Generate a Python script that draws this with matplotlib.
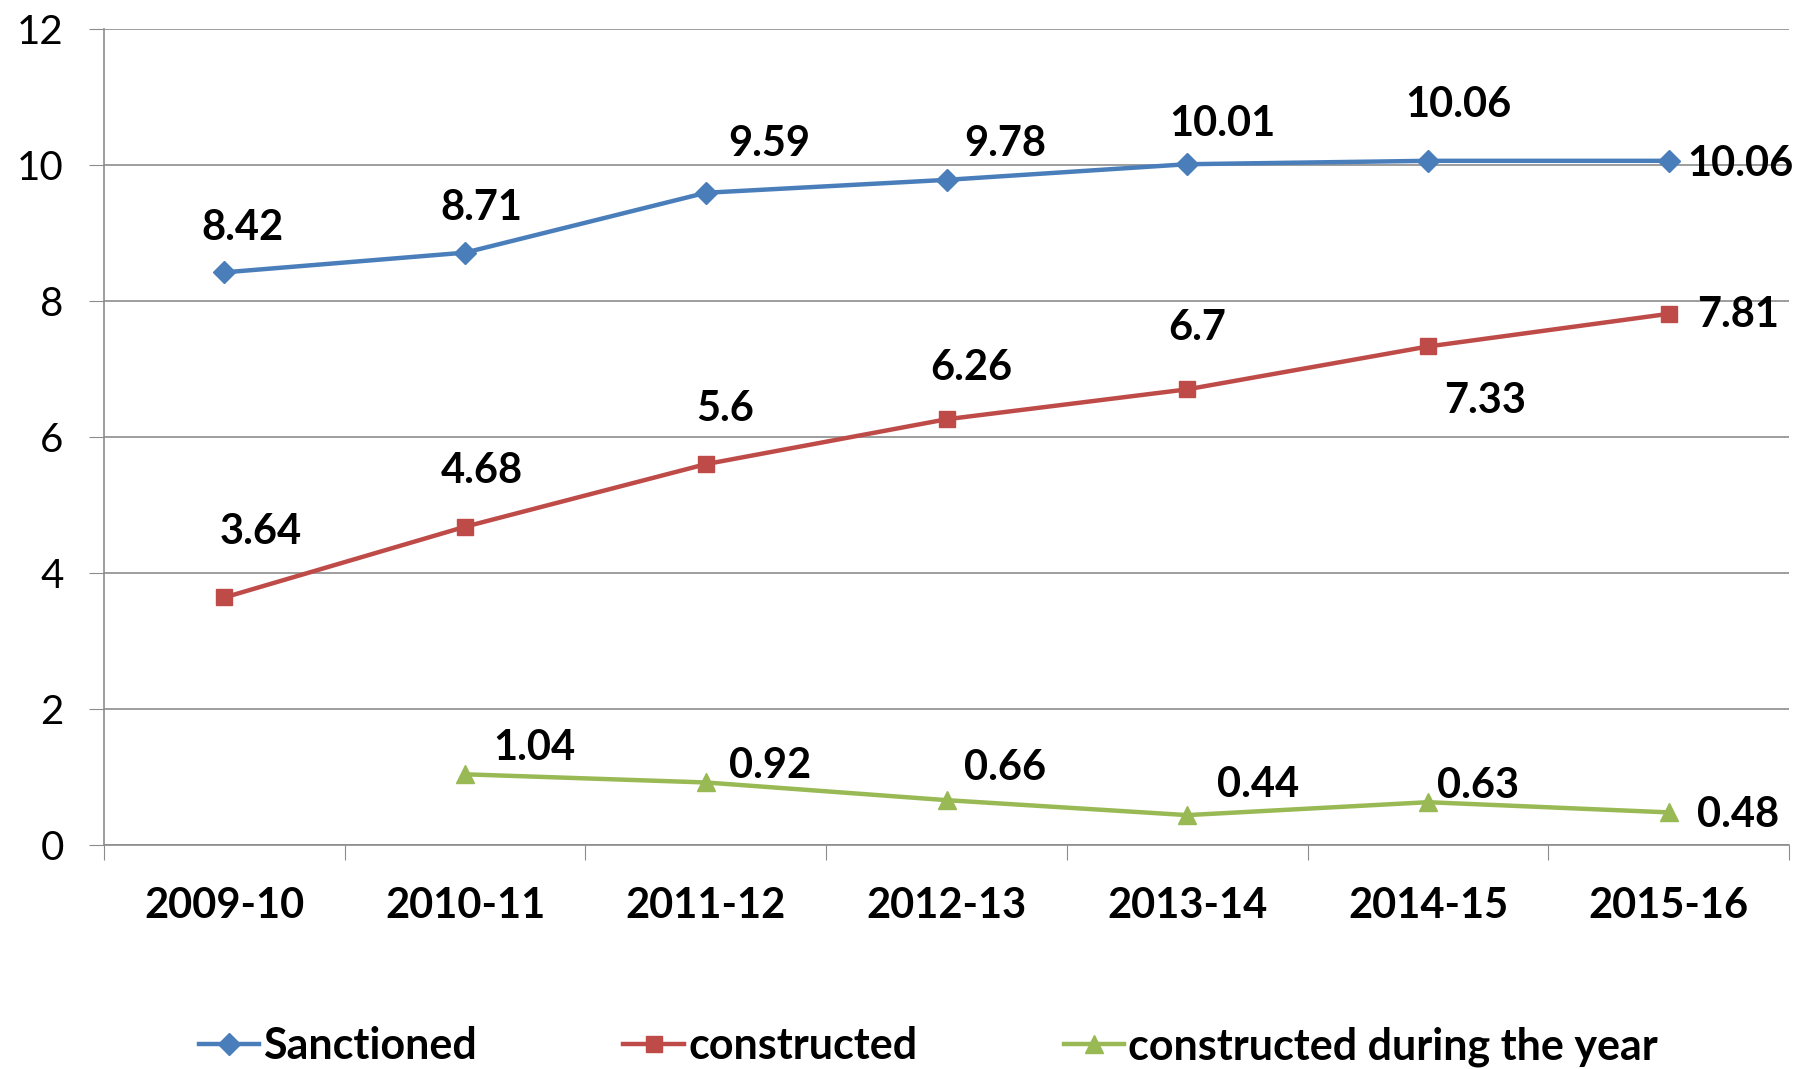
import matplotlib
matplotlib.use("Agg")
import matplotlib.pyplot as plt

# data
years = ["2009-10", "2010-11", "2011-12", "2012-13", "2013-14", "2014-15", "2015-16"]
sanctioned = [8.42, 8.71, 9.59, 9.78, 10.01, 10.06, 10.06]
constructed = [3.64, 4.68, 5.6, 6.26, 6.7, 7.33, 7.81]
during_year = [None, 1.04, 0.92, 0.66, 0.44, 0.63, 0.48]

# label offsets in points (dx, dy)
off_sanc = [(13, 32), (12, 32), (46, 35), (42, 26), (25, 29), (22, 40), (52, -2)]
off_cons = [(26, 47), (12, 40), (14, 40), (18, 37), (7, 44), (41, -39), (50, -1)]
off_dur = [None, (50, 19), (46, 12), (42, 23), (51, 22), (36, 12), (50, -2)]

plt.rcParams['font.family'] = ['Lato', 'DejaVu Sans']

fig = plt.figure(figsize=(18.06, 10.69), dpi=100)
ax = fig.add_axes([0.0576, 0.2095, 0.933, 0.7635])

x = list(range(len(years)))
series = [
    ("Sanctioned", sanctioned, "#4A7EBB", "D", 11, off_sanc),
    ("constructed", constructed, "#BE4B48", "s", 12, off_cons),
    ("constructed during the year", during_year, "#98B954", "^", 13, off_dur),
]
for name, vals, col, mk, ms, offs in series:
    xs = [xi for xi, v in zip(x, vals) if v is not None]
    ys = [v for v in vals if v is not None]
    ax.plot(xs, ys, color=col, lw=3.2, marker=mk, markersize=ms, label=name)
    for xi, v, o in zip(x, vals, offs):
        if v is None:
            continue
        ax.annotate(f"{v:g}", (xi, v), xytext=o, textcoords="offset points",
                    ha="center", va="center", fontsize=30, fontweight="bold")

ax.set_xlim(-0.5, 6.5)
ax.set_ylim(0, 12)
ax.set_yticks(range(0, 13, 2))
ax.tick_params(axis="y", labelsize=29, length=11, color="#8c8c8c", pad=18)
ax.grid(axis="y", color="#8c8c8c", lw=1.2)
ax.set_axisbelow(True)

# category boundaries as major ticks, labels on minor ticks
ax.set_xticks([i - 0.5 for i in range(len(years) + 1)])
ax.set_xticklabels([])
ax.set_xticks(x, minor=True)
ax.set_xticklabels(years, minor=True, fontsize=30, fontweight="bold")
ax.tick_params(axis="x", which="major", length=11, color="#8c8c8c")
ax.tick_params(axis="x", which="minor", length=0, pad=30)

for s in ["top", "right"]:
    ax.spines[s].set_visible(False)
for s in ["left", "bottom"]:
    ax.spines[s].set_color("#8c8c8c")
    ax.spines[s].set_linewidth(1.2)

leg = fig.legend(loc="lower center", bbox_to_anchor=(0.514, -0.034), ncol=3,
                 frameon=False, handlelength=1.4, handletextpad=0.1,
                 columnspacing=3.4, prop={"size": 31, "weight": "bold"})

fig.savefig("out.png", dpi=100)
